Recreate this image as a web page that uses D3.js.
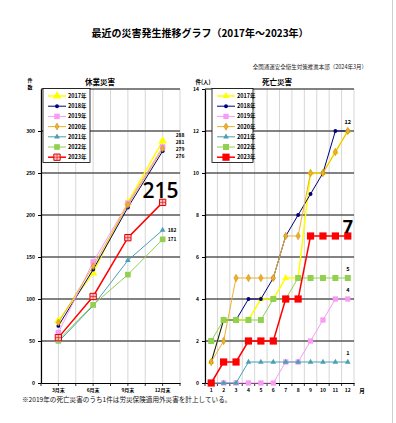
<!DOCTYPE html>
<html>
<head>
<meta charset="utf-8">
<script src="https://cdn.jsdelivr.net/npm/d3@7"></script>
<style>
  body { margin: 0; background: #fff; }
  svg { display: block; }
</style>
</head>
<body>
<svg id="chart" width="396" height="423"></svg>
<script>
// ---- data ----
const years = ["2017年", "2018年", "2019年", "2020年", "2021年", "2022年", "2023年"];
const quarters = ["3月末", "6月末", "9月末", "12月末"];
const months = [1, 2, 3, 4, 5, 6, 7, 8, 9, 10, 11, 12];

// 休業災害 cumulative, by quarter end
const leave2017 = [74, 131, 215, 288];
const leave2018 = [68, 135, 209, 276];
const leave2019 = [60, 144, 214, 281];
const leave2020 = [72, 139, 212, 279];
const leave2021 = [49, 92, 146, 182];
const leave2022 = [51, 93, 129, 171];
const leave2023 = [54, 103, 173, 215];

// 死亡災害 cumulative, by month
const death2017 = [1, 3, 3, 3, 4, 4, 5, 5, 10, 10, 11, 12];
const death2018 = [1, 3, 3, 4, 4, 5, 7, 8, 9, 10, 12, 12];
const death2019 = [0, 0, 0, 0, 0, 0, 1, 1, 2, 3, 4, 4];
const death2020 = [1, 2, 5, 5, 5, 5, 7, 7, 10, 10, 11, 12];
const death2021 = [0, 0, 0, 1, 1, 1, 1, 1, 1, 1, 1, 1];
const death2022 = [2, 3, 3, 3, 3, 4, 4, 5, 5, 5, 5, 5];
const death2023 = [0, 1, 1, 2, 2, 2, 4, 4, 7, 7, 7, 7];

const leaveTicks = [0, 50, 100, 150, 200, 250, 300];
const deathTicks = [0, 2, 4, 6, 8, 10, 12, 14];

const leaveSeries = [leave2017, leave2018, leave2019, leave2020, leave2021, leave2022, leave2023];
const deathSeries = [death2017, death2018, death2019, death2020, death2021, death2022, death2023];

// ---- styles ----
const colors = ["#FFFF00", "#000080", "#F79CF2", "#EDB02C", "#4A9FB3", "#92D050", "#FF0000"];
const shapes = [d3.symbolTriangle, d3.symbolCircle, d3.symbolSquare, d3.symbolDiamond,
                d3.symbolTriangle, d3.symbolSquare, d3.symbolSquare];
const leftSizes = [32, 12, 30, 14, 14, 32, 40];
const rightSizes = [20, 12, 28, 16, 14, 36, 52];
const lineWidths = [1.5, 1, 1, 1, 1, 1, 1.5];

const jp = "'Noto Sans CJK JP', 'Noto Sans', sans-serif";
const svg = d3.select("#chart");

// page edge
svg.append("line").attr("x1", 392.5).attr("x2", 392.5).attr("y1", 0).attr("y2", 423)
  .attr("stroke", "#cfcfcf").attr("stroke-width", 1);

// titles
svg.append("text").attr("x", 200).attr("y", 37).attr("text-anchor", "middle")
  .style("font-family", jp).style("font-weight", "bold").style("font-size", "10px")
  .text("最近の災害発生推移グラフ（2017年～2023年）");
svg.append("text").attr("x", 367).attr("y", 69).attr("text-anchor", "end")
  .style("font-family", jp).style("font-size", "5.5px").attr("fill", "#222")
  .text("全国通運安全衛生対策推進本部（2024年3月）");

function symbolPath(i, sizes) {
  return d3.symbol().type(shapes[i]).size(sizes[i])();
}

function drawMarker(g, i, x, y, sizes, right) {
  let m = g.append("path")
    .attr("d", symbolPath(i, sizes))
    .attr("transform", "translate(" + x + "," + y + ")")
    .attr("fill", colors[i]);
  if (i == 6 && !right) {
    m.attr("fill", "#f9c4c4").attr("stroke", "#e00000").attr("stroke-width", 1);
    g.append("path")
      .attr("d", "M" + (x - 3) + "," + y + "H" + (x + 3) + "M" + x + "," + (y - 3) + "V" + (y + 3))
      .attr("stroke", "#e00000").attr("stroke-width", 0.6);
  } else if (i == 3) {
    m.attr("stroke", "#c8870a").attr("stroke-width", 0.5);
  }
}

function drawChart(opts) {
  let g = svg.append("g");
  let x = d3.scaleBand().domain(opts.categories).range([opts.x0, opts.x1]);
  let y = d3.scaleLinear().domain([0, opts.yMax]).range([383, 89]);

  // vertical light grid
  let vLines = [];
  opts.categories.forEach(c => {
    vLines.push(x(c));
    if (opts.halfGrid) vLines.push(x(c) + x.bandwidth() / 2);
  });
  vLines.push(opts.x1);
  g.selectAll(".vgrid").data(vLines).enter().append("line")
    .attr("x1", d => d).attr("x2", d => d).attr("y1", 89).attr("y2", 383)
    .attr("stroke", "#d6d6d6").attr("stroke-width", 1);

  // horizontal grid
  g.selectAll(".hgrid").data(opts.gridValues).enter().append("line")
    .attr("x1", opts.x0).attr("x2", opts.x1)
    .attr("y1", d => y(d)).attr("y2", d => y(d))
    .attr("stroke", "#595959").attr("stroke-width", 1.3);

  // axes
  let yAxis = g.append("g").attr("transform", "translate(" + opts.x0 + ",0)")
    .call(d3.axisLeft(y).tickValues(opts.ticks).tickSize(3).tickPadding(3).tickSizeOuter(0));
  let xAxis = g.append("g").attr("transform", "translate(0,383)")
    .call(d3.axisBottom(x).tickSize(0).tickPadding(5));
  [yAxis, xAxis].forEach(a => {
    a.select(".domain").attr("stroke", "#000").attr("stroke-width", 1.2);
    a.selectAll(".tick line").attr("stroke", "#000");
    a.selectAll("text").style("font-family", jp).style("font-weight", "bold")
      .style("font-size", "5px").attr("fill", "#000");
  });
  g.selectAll(".xtick").data(vLines).enter().append("line")
    .attr("x1", d => d).attr("x2", d => d).attr("y1", 383).attr("y2", 386)
    .attr("stroke", "#000").attr("stroke-width", 0.8);

  // chart title
  g.append("text").attr("x", opts.titleX).attr("y", 85).attr("text-anchor", "middle")
    .style("font-family", jp).style("font-weight", "bold").style("font-size", "7.5px")
    .text(opts.title);

  // series
  let line = d3.line().x((d, j) => x(opts.categories[j]) + x.bandwidth() / 2).y(d => y(d));
  opts.series.forEach((vals, i) => {
    g.append("path").datum(vals).attr("d", line)
      .attr("fill", "none").attr("stroke", colors[i]).attr("stroke-width", lineWidths[i]);
    vals.forEach((v, j) => {
      drawMarker(g, i, x(opts.categories[j]) + x.bandwidth() / 2, y(v), opts.sizes, opts.right);
    });
  });

  // legend
  let lg = g.append("g");
  lg.append("rect").attr("x", opts.legendX).attr("y", 88.5).attr("width", opts.legendW).attr("height", 74)
    .attr("fill", "#fff").attr("stroke", "#000").attr("stroke-width", 0.8);
  years.forEach((yr, i) => {
    let ly = 96 + i * 10.2;
    lg.append("line").attr("x1", opts.legendX + 5).attr("x2", opts.legendX + 23)
      .attr("y1", ly).attr("y2", ly).attr("stroke", colors[i]).attr("stroke-width", lineWidths[i]);
    drawMarker(lg, i, opts.legendX + 14, ly, opts.sizes, opts.right);
    lg.append("text").attr("x", opts.legendX + 25).attr("y", ly + 2)
      .style("font-family", jp).style("font-weight", "bold").style("font-size", "5.5px")
      .text(yr);
  });

  return { g: g, x: x, y: y };
}

// ---- left: 休業災害 ----
let left = drawChart({
  categories: quarters, x0: 41, x1: 180, yMax: 350, ticks: leaveTicks,
  gridValues: [50, 100, 150, 200, 250, 300, 350], halfGrid: true,
  series: leaveSeries, sizes: leftSizes, right: false,
  title: "休業災害", titleX: 100, legendX: 43, legendW: 47
});
svg.append("text").attr("x", 30).attr("y", 82).attr("text-anchor", "middle")
  .style("font-family", jp).style("font-weight", "bold").style("font-size", "5px").text("件");
svg.append("text").attr("x", 30).attr("y", 89).attr("text-anchor", "middle")
  .style("font-family", jp).style("font-weight", "bold").style("font-size", "5px").text("数");

// end labels for the top four
let lastX = left.x("12月末") + left.x.bandwidth() / 2;
let topFour = [0, 2, 3, 1];
topFour.forEach((i, k) => {
  let v = leaveSeries[i][3];
  svg.append("text").attr("x", lastX + 13).attr("y", left.y(leaveSeries[0][3]) - 4 + k * 7)
    .style("font-family", jp).style("font-weight", "bold").style("font-size", "5px").text(v);
});
[4, 5].forEach(i => {
  let v = leaveSeries[i][3];
  svg.append("text").attr("x", lastX + 5).attr("y", left.y(v) + 2)
    .style("font-family", jp).style("font-weight", "bold").style("font-size", "5px").text(v);
});
svg.append("text").attr("x", lastX + 16).attr("y", left.y(leave2023[3]) - 4)
  .attr("text-anchor", "end")
  .style("font-family", "'Open Sans', sans-serif").style("font-weight", "600").style("font-size", "21px")
  .text(leave2023[3]);

// ---- right: 死亡災害 ----
let right = drawChart({
  categories: months, x0: 205, x1: 354, yMax: 14, ticks: deathTicks,
  gridValues: [2, 4, 6, 8, 10, 12, 14], halfGrid: false,
  series: deathSeries, sizes: rightSizes, right: true,
  title: "死亡災害", titleX: 277, legendX: 212, legendW: 41
});
svg.append("text").attr("x", 203).attr("y", 84).attr("text-anchor", "middle")
  .style("font-family", jp).style("font-weight", "bold").style("font-size", "5.5px").text("件(人)");
svg.append("text").attr("x", 362).attr("y", 393).attr("text-anchor", "middle")
  .style("font-family", jp).style("font-weight", "bold").style("font-size", "5.5px").text("月");

let mX = right.x(12) + right.x.bandwidth() / 2;
[1, 2, 4, 5].forEach(i => {
  let v = deathSeries[i][11];
  svg.append("text").attr("x", mX).attr("y", right.y(v) - 7).attr("text-anchor", "middle")
    .style("font-family", jp).style("font-weight", "bold").style("font-size", "5.5px").text(v);
});
svg.append("text").attr("x", mX).attr("y", right.y(death2023[11]) - 3).attr("text-anchor", "middle")
  .style("font-family", "'Open Sans', sans-serif").style("font-weight", "700").style("font-size", "18px")
  .text(death2023[11]);

// footnote
svg.append("text").attr("x", 22).attr("y", 402)
  .style("font-family", jp).style("font-size", "6.6px").attr("fill", "#111")
  .text("※2019年の死亡災害のうち1件は労災保険適用外災害を計上している。");
</script>
</body>
</html>
